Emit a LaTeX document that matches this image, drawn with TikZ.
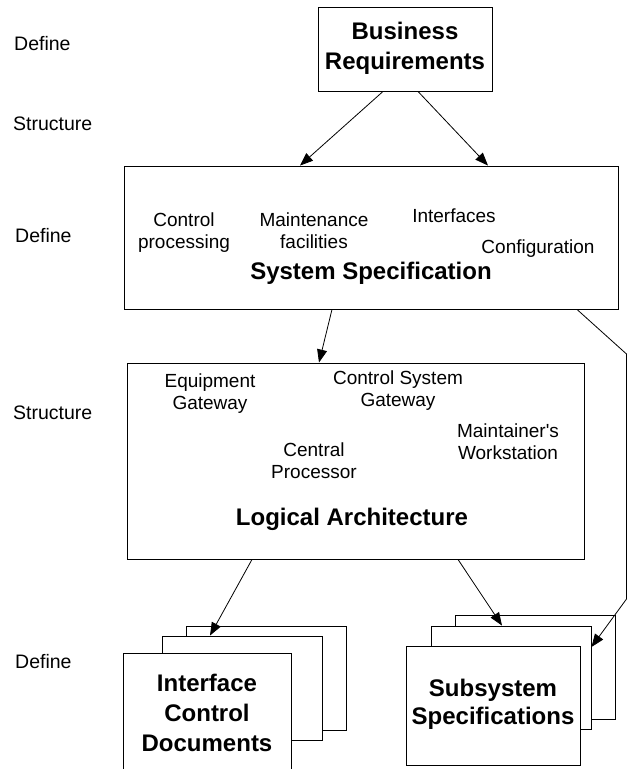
\documentclass[tikz,border=0pt]{standalone}
\usepackage{fontspec}
\setmainfont{Liberation Sans}
\usetikzlibrary{arrows.meta}

\tikzset{
  box/.style={draw=black, line width=0.9pt, fill=white, inner sep=0pt},
  plain/.style={inner sep=0pt, align=center, font=\fontsize{19}{22}\selectfont},
  level/.style={inner sep=0pt, anchor=west, font=\fontsize{19.5}{22}\selectfont},
  title/.style={inner sep=0pt, align=center, font=\fontsize{24}{30}\selectfont\bfseries},
  link/.style={draw=black, line width=0.8pt, -{Triangle[length=13pt, width=10pt]}}
}

\begin{document}
\begin{tikzpicture}[x=1pt, y=-1pt]
\useasboundingbox (0,0) rectangle (628,769);
\clip (0,0) rectangle (628,769);

% process levels down the left margin
\node[level] (lv1) at (14,44)  {Define};
\node[level] (lv2) at (13,124) {Structure};
\node[level] (lv3) at (15,236) {Define};
\node[level] (lv4) at (13,413) {Structure};
\node[level] (lv5) at (15,662) {Define};

% business requirements
\node[box, minimum width=174pt, minimum height=84pt] (br) at (405,49) {};
\node[title] (brt) at (405,48) {Business\\Requirements};

% system specification
\node[box, minimum width=494pt, minimum height=143pt] (ss) at (371,237.5) {};
\node[plain] (cp)  at (184,233)   {Control\\processing};
\node[plain] (mf)  at (314,231)   {Maintenance\\facilities};
\node[plain] (ifc) at (454,216)   {Interfaces};
\node[plain] (cfg) at (538,249)   {Configuration};
\node[title] (sst) at (371,273)   {System Specification};

% logical architecture
\node[box, minimum width=457pt, minimum height=196pt] (la) at (355.5,461) {};
\node[plain] (eg)  at (210,394)   {Equipment\\Gateway};
\node[plain] (csg) at (398,391)   {Control System\\Gateway};
\node[plain] (cpr) at (314,461)   {Central\\Processor};
\node[plain] (mw)  at (508,442)   {Maintainer\textquotesingle s\\Workstation};
\node[title] (lat) at (352,519)   {Logical Architecture};

% interface control documents (stack of sheets)
\node[box, minimum width=160pt, minimum height=104pt] (icd3) at (266,678) {};
\node[box, minimum width=160pt, minimum height=104pt] (icd2) at (242,688) {};
\node[box, minimum width=168pt, minimum height=119pt] (icd1) at (207,712.5) {};
\node[title] (icdt) at (207,713) {Interface\\Control\\Documents};

% subsystem specifications (stack of sheets)
\node[box, minimum width=160pt, minimum height=104pt] (sss3) at (535,667) {};
\node[box, minimum width=160pt, minimum height=103pt] (sss2) at (511,677.5) {};
\node[box, minimum width=174pt, minimum height=119pt] (sss1) at (493,705.5) {};
\node[title, font=\fontsize{24}{28}\selectfont\bfseries] (ssst) at (493,704) {Subsystem\\Specifications};

% connectors
\draw[link] ([xshift=-22pt]br.south) -- ([xshift=-71pt]ss.north);
\draw[link] ([xshift=13pt]br.south)  -- ([xshift=117pt]ss.north);
\draw[link] ([xshift=-39pt]ss.south) -- ([xshift=-36.5pt]la.north);
\draw[link] ([xshift=-103.5pt]la.south) -- ([xshift=-32pt]icd2.north);
\draw[link] ([xshift=102.5pt]la.south)  -- ([xshift=-9pt]sss2.north);

\coordinate (k1) at (626.5,354);
\coordinate (k2) at (626.5,599);
\draw[link] ([xshift=206pt]ss.south) -- (k1) -- (k2) -- ([yshift=30.5pt]sss2.east);
\end{tikzpicture}
\end{document}
